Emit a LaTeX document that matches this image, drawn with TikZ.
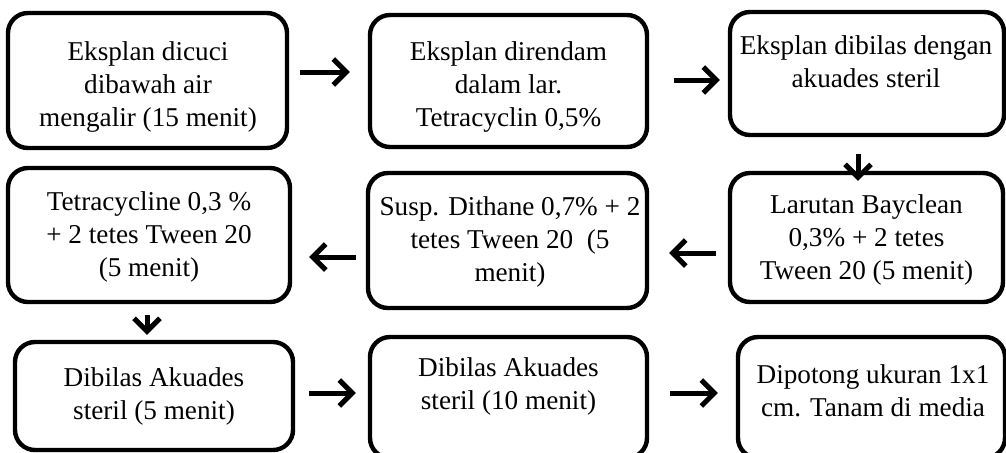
\documentclass[tikz,border=0pt]{standalone}
\usepackage{fontspec}
\setmainfont{Liberation Serif}
\usepackage{tikz}
\usetikzlibrary{arrows.meta}
\tikzstyle{box}=[draw, rounded corners=10pt, line width=2.2pt, inner sep=0pt]
\tikzstyle{txt}=[align=center, inner sep=0pt, font=\fontsize{13.6}{16.5}\selectfont]
\tikzset{arr/.style={-{Straight Barb[length=6.5pt, width=13pt]}, line width=2.5pt}}

\begin{document}
\begin{tikzpicture}[x=0.5pt, y=-0.5pt]
		\useasboundingbox (0,0) rectangle (1006,452);
		\node[box, minimum width=139.5pt, minimum height=67.5pt] (dicuci) at (147.5,80.5) {};
		\node[box, minimum width=138.5pt, minimum height=66pt] (direndam) at (508.5,81) {};
		\node[box, minimum width=137pt, minimum height=61.5pt] (dibilas) at (867,73.5) {};
		\node[box, minimum width=141pt, minimum height=67pt] (tetra) at (149,235) {};
		\node[box, minimum width=139.5pt, minimum height=67.5pt] (dithane) at (507.5,240.5) {};
		\node[box, minimum width=136.5pt, minimum height=64.5pt] (bayclean) at (866.5,237.5) {};
		\node[box, minimum width=139pt, minimum height=54pt] (akuades) at (154,396) {};
		\node[box, minimum width=138.5pt, minimum height=60.5pt] (akuadesb) at (508.5,397.5) {};
		\node[box, minimum width=133.5pt, minimum height=60.5pt] (potong) at (871.5,397.5) {};
		\node[txt] (dicuci-t) at (148,87) {Eksplan dicuci\\dibawah air\\mengalir (15 menit)};
		\node[txt] (direndam-t) at (508.5,87) {Eksplan direndam\\dalam lar.\\Tetracyclin 0,5\%};
		\node[txt] (dibilas-t) at (866,62) {Eksplan dibilas dengan\\akuades steril};
		\node[txt] (tetra-t) at (149,237) {Tetracycline 0,3 \%\\+ 2 tetes Tween 20\\(5 menit)};
		\node[txt] (dithane-t) at (510,242) {Susp. Dithane 0,7\% + 2\\tetes Tween 20~ (5\\menit)};
		\node[txt] (bayclean-t) at (866.5,240) {Larutan Bayclean\\0,3\% + 2 tetes\\Tween 20 (5 menit)};
		\node[txt] (akuades-t) at (154,396) {Dibilas Akuades\\steril (5 menit)};
		\node[txt] (akuadesb-t) at (508.5,386) {Dibilas Akuades\\steril (10 menit)};
		\node[txt] (potong-t) at (873,391) {Dipotong ukuran 1x1\\cm. Tanam di media};
		\path ([yshift=4.25pt]dicuci.east) coordinate (ab);
		\path ([yshift=0.5pt]direndam.east) coordinate (bc);
		\path ([xshift=-4.5pt]dibilas.south) coordinate (cf);
		\path ([yshift=-7.75pt]bayclean.west) coordinate (fe);
		\path ([yshift=-8.25pt]dithane.west) coordinate (ed);
		\path ([xshift=-1pt]tetra.south) coordinate (dg);
		\path ([yshift=1.5pt]akuades.east) coordinate (gh);
		\path ([yshift=2.25pt]akuadesb.east) coordinate (hi);
		\draw[arr, shorten <=5.5pt, shorten >=9pt] (ab) -- (ab -| direndam.west);
		\draw[arr, shorten <=12.5pt, shorten >=4pt] (bc) -- (bc -| dibilas.west);
		\draw[arr, shorten <=8.5pt, shorten >=-5pt] (cf) -- (cf |- bayclean.north);
		\draw[arr, shorten <=6pt, shorten >=10pt] (fe) -- (fe -| dithane.east);
		\draw[arr, shorten <=5pt, shorten >=8.5pt] (ed) -- (ed -| tetra.east);
		\draw[arr, shorten <=5.5pt, shorten >=2.5pt] (dg) -- (dg |- akuades.north);
		\draw[arr, shorten <=7pt, shorten >=6pt] (gh) -- (gh -| akuadesb.west);
		\draw[arr, shorten <=10.5pt, shorten >=9pt] (hi) -- (hi -| potong.west);
		\end{tikzpicture}
\end{document}
